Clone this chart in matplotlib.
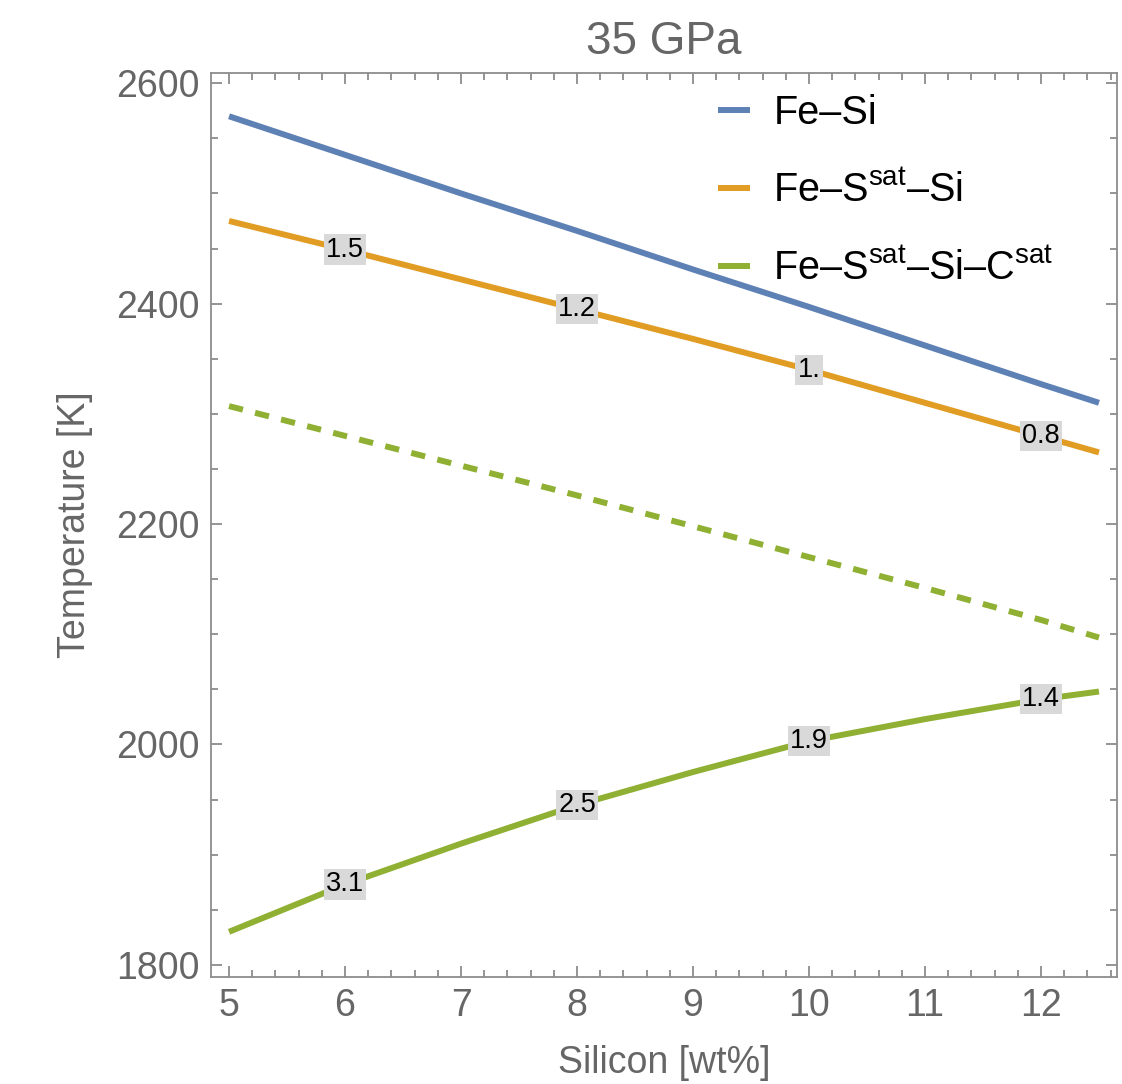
"""
Liquidus temperature vs silicon content at 35 GPa
"""

import matplotlib
matplotlib.use("Agg")
import matplotlib.pyplot as plt
from matplotlib.ticker import MultipleLocator

plt.rcParams['font.family'] = ['Liberation Sans', 'DejaVu Sans']
plt.rcParams['mathtext.fontset'] = 'custom'
plt.rcParams['mathtext.rm'] = 'Liberation Sans'
plt.rcParams['mathtext.it'] = 'Liberation Sans:italic'

# Data
si = [5, 6, 7, 8, 9, 10, 11, 12, 12.5]  # Silicon [wt%]
t_fesi = [2570, 2535, 2500, 2466, 2431, 2397, 2362, 2327, 2310]
t_fessi = [2475, 2449, 2422, 2395, 2368, 2340, 2310, 2280, 2265]
t_fessic_dash = [2307, 2280, 2253, 2226, 2198, 2170, 2142, 2113, 2097]
t_fessic = [1830, 1873, 1910, 1945, 1975, 2003, 2023, 2041, 2048]

# Contour-style labels sitting on the curves
lab_x = [6, 8, 10, 12]
lab_fessi = ["1.5", "1.2", "1.", "0.8"]
lab_fessic = ["3.1", "2.5", "1.9", "1.4"]

blue = '#5e81b5'
orange = '#e19c24'
green = '#8fb032'
grey = '#666666'
frame = '#8c8c8c'

fig = plt.figure(figsize=(11.22, 10.84), dpi=100)
ax = fig.add_axes([0.1881, 0.0987, 0.8074, 0.834])

lw = 4.3
ax.plot(si, t_fesi, color=blue, lw=lw, solid_capstyle='butt', label='Fe\u2013Si')
ax.plot(si, t_fessi, color=orange, lw=lw, solid_capstyle='butt',
        label='Fe\u2013S$^{\\mathrm{sat}}$\u2013Si')
ax.plot(si, t_fessic, color=green, lw=lw, solid_capstyle='butt',
        label='Fe\u2013S$^{\\mathrm{sat}}$\u2013Si\u2013C$^{\\mathrm{sat}}$')
ax.plot(si, t_fessic_dash, color=green, lw=lw, ls=(0, (2.4, 2.1)),
        dash_capstyle='butt')

# put the labels on the lines
box = dict(boxstyle='square,pad=0.08', fc='#d9d9d9', ec='none')
for xv, s in zip(lab_x, lab_fessi):
    ax.text(xv, t_fessi[si.index(xv)], s, ha='center', va='center',
            fontsize=19.5, color='black', bbox=box, zorder=5)
for xv, s in zip(lab_x, lab_fessic):
    ax.text(xv, t_fessic[si.index(xv)], s, ha='center', va='center',
            fontsize=19.5, color='black', bbox=box, zorder=5)

ax.set_xlim(4.845, 12.655)
ax.set_ylim(1789, 2609.3)

ax.xaxis.set_major_locator(MultipleLocator(1))
ax.xaxis.set_minor_locator(MultipleLocator(0.2))
ax.yaxis.set_major_locator(MultipleLocator(200))
ax.yaxis.set_minor_locator(MultipleLocator(50))

ax.tick_params(which='both', direction='in', top=True, right=True,
               color=frame, width=1.3, labelcolor=grey, labelsize=27, pad=8)
ax.tick_params(which='major', length=8)
ax.tick_params(which='minor', length=5)
for sp in ax.spines.values():
    sp.set_color(frame)
    sp.set_linewidth(1.3)

ax.set_xlabel('Silicon [wt%]', fontsize=27, color=grey)
ax.set_ylabel('Temperature [K]', fontsize=27, color=grey)
ax.xaxis.set_label_coords(0.5, -0.075)
ax.yaxis.set_label_coords(-0.13, 0.5)
ax.set_title('35 GPa', fontsize=33, color=grey, pad=14)

ax.legend(loc='upper left', bbox_to_anchor=(0.5596, 0.977), frameon=False,
          fontsize=28.5, handlelength=0.8, handletextpad=0.6, labelspacing=1.0,
          borderpad=0, borderaxespad=0)

fig.savefig('out.png', dpi=100)
